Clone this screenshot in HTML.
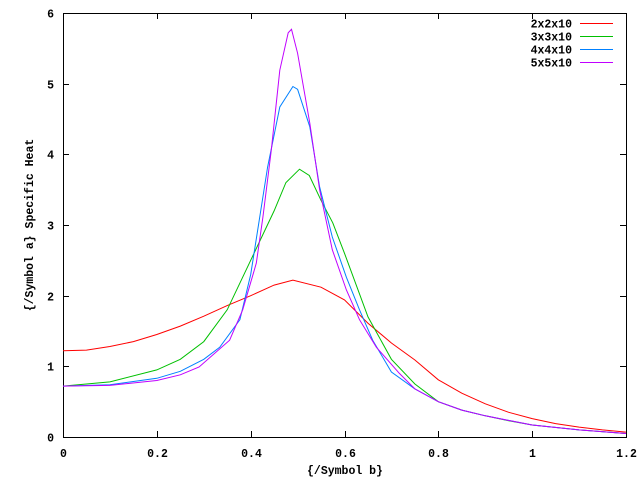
<!DOCTYPE html>
<html><head><meta charset="utf-8"><style>
html,body{margin:0;padding:0;background:#fff;}
svg{display:block;}
text{font-family:"Liberation Mono",monospace;font-size:11.5px;font-weight:bold;fill:#000;}
</style></head><body>
<svg id="chart" width="640" height="480" xmlns="http://www.w3.org/2000/svg">
<rect x="0" y="0" width="640" height="480" fill="#fff"/>
<g id="axes"></g>
<g id="series"></g>
<g id="legend"></g>
<text x="345" y="474" text-anchor="middle">{/Symbol b}</text>
<text x="33" y="225" text-anchor="middle" transform="rotate(-90 33 225)">{/Symbol a} Specific Heat</text>
</svg>
<script>
const xTicks=[0,0.2,0.4,0.6,0.8,1,1.2];
const xTickLabels=["0","0.2","0.4","0.6","0.8","1","1.2"];
const yTicks=[0,1,2,3,4,5,6];
const yTickLabels=["0","1","2","3","4","5","6"];
const seriesNames=["2x2x10","3x3x10","4x4x10","5x5x10"];
const seriesColors=["#ff0000","#00c000","#0080ff","#c000ff"];
const beta1=[0,0.05,0.1,0.15,0.2,0.25,0.3,0.35,0.4,0.45,0.49,0.55,0.6,0.65,0.7,0.75,0.8,0.85,0.9,0.95,1.0,1.05,1.1,1.15,1.2];
const heat1=[1.22,1.23,1.28,1.35,1.45,1.57,1.71,1.86,2.0,2.15,2.22,2.12,1.94,1.61,1.33,1.09,0.81,0.62,0.47,0.35,0.26,0.19,0.14,0.1,0.07];
const beta2=[0,0.1,0.2,0.25,0.3,0.35,0.4,0.45,0.475,0.504,0.525,0.55,0.575,0.6,0.65,0.7,0.75,0.8,0.85,0.9,0.95,1.0,1.1,1.2];
const heat2=[0.72,0.78,0.95,1.1,1.35,1.8,2.5,3.2,3.6,3.79,3.7,3.35,3.03,2.6,1.7,1.1,0.75,0.5,0.38,0.3,0.23,0.17,0.1,0.05];
const beta3=[0,0.1,0.2,0.25,0.3,0.334,0.377,0.4,0.436,0.462,0.49,0.5,0.526,0.547,0.574,0.604,0.632,0.66,0.7,0.75,0.8,0.85,0.9,1.0,1.1,1.2];
const heat3=[0.72,0.74,0.83,0.93,1.1,1.27,1.66,2.3,3.82,4.67,4.96,4.92,4.39,3.54,2.83,2.26,1.8,1.37,0.92,0.68,0.5,0.38,0.3,0.17,0.1,0.05];
const beta4=[0,0.1,0.2,0.25,0.29,0.355,0.383,0.412,0.426,0.444,0.462,0.48,0.487,0.5,0.526,0.547,0.574,0.604,0.632,0.668,0.717,0.75,0.8,0.85,0.9,1.0,1.1,1.2];
const heat4=[0.72,0.73,0.8,0.88,0.99,1.37,1.8,2.46,3.11,4.06,5.19,5.72,5.77,5.43,4.44,3.5,2.65,2.08,1.66,1.27,0.9,0.68,0.5,0.38,0.3,0.17,0.1,0.05];
const allBeta=[beta1,beta2,beta3,beta4];
const allHeat=[heat1,heat2,heat3,heat4];

const X0=63,X1=626,Y0=437,Y1=13,XMIN=0,XMAX=1.2,YMIN=0,YMAX=6;
const NS="http://www.w3.org/2000/svg";
function sx(v){return X0+(v-XMIN)/(XMAX-XMIN)*(X1-X0);}
function sy(v){return Y0-(v-YMIN)/(YMAX-YMIN)*(Y0-Y1);}
function mk(tag,parent){const e=document.createElementNS(NS,tag);parent.appendChild(e);return e;}
const axes=document.getElementById('axes');
const frame=mk('rect',axes);


frame.setAttribute('x',X0+0.5);frame.setAttribute('y',Y1+0.5);
frame.setAttribute('width',X1-X0);frame.setAttribute('height',Y0-Y1);
frame.setAttribute('fill','none');frame.setAttribute('stroke','#000');
xTicks.forEach((t,i)=>{
  const x=Math.round(sx(t))+0.5;
  const tk=mk('path',axes);
  
  
  tk.setAttribute('d',`M${x},${Y0}v-6M${x},${Y1}v6`);tk.setAttribute('stroke','#000');
  const lb=mk('text',axes);
  
  
  lb.setAttribute('x',x);lb.setAttribute('y',Y0+20);lb.setAttribute('text-anchor','middle');
  lb.textContent=xTickLabels[i];
});
yTicks.forEach((t,i)=>{
  const y=Math.round(sy(t))+0.5;
  const tk=mk('path',axes);
  
  
  tk.setAttribute('d',`M${X0},${y}h6M${X1},${y}h-6`);tk.setAttribute('stroke','#000');
  const lb=mk('text',axes);
  
  
  lb.setAttribute('x',X0-9);lb.setAttribute('y',y+4);lb.setAttribute('text-anchor','end');
  lb.textContent=yTickLabels[i];
});
const sg=document.getElementById('series');
const lg=document.getElementById('legend');
allBeta.forEach((bs,k)=>{
  const hs=allHeat[k];
  const p=mk('path',sg);
  
  
  p.setAttribute('d',bs.map((b,i)=>(i?'L':'M')+sx(b).toFixed(1)+','+sy(hs[i]).toFixed(1)).join(''));
  p.setAttribute('fill','none');p.setAttribute('stroke',seriesColors[k]);p.setAttribute('stroke-width','1');
  const ly=23.5+k*13;
  const t=mk('text',lg);
  
  
  t.setAttribute('x',572);t.setAttribute('y',ly+4);t.setAttribute('text-anchor','end');
  t.textContent=seriesNames[k];
  const l=mk('path',lg);
  
  
  l.setAttribute('d',`M580,${ly}H613`);l.setAttribute('stroke',seriesColors[k]);
});
</script>
</body></html>
